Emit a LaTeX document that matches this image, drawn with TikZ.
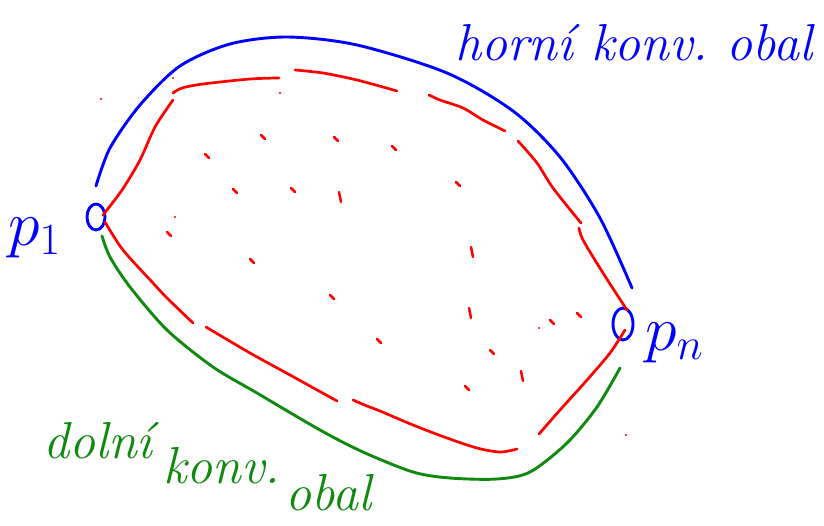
\RequirePackage{fix-cm}
\documentclass[tikz,border=0pt]{standalone}
\usepackage{fontspec}
\usepackage{amsmath}
\usepackage{tikz}
\usetikzlibrary{calc}
\definecolor{PenBlue}{HTML}{0000FF}
\definecolor{PenRed}{HTML}{FF0000}
\definecolor{PenGreen}{HTML}{0F8A0F}

\begin{document}
\begin{tikzpicture}[x=1pt,y=-1pt,
    hull/.style={line width=2.9pt,line cap=round,line join=round},
    edge/.style={PenRed,line width=2.7pt,line cap=round,line join=round},
    pt/.style={PenRed,line width=2.5pt,line cap=round},
    hand/.style={font=\fontsize{52}{60}\selectfont\itshape,inner sep=0pt,anchor=base west},
    ptname/.style={PenBlue,font=\fontsize{64}{70}\selectfont,inner sep=0pt,anchor=base west}]
  \path[fill=white] (0,0) rectangle (824,525);
  % extreme points
  \coordinate (p1) at (96,217);
  \coordinate (pn) at (623,324);
  \draw[PenBlue,hull] (p1) ellipse (9 and 13);
  \draw[PenBlue,hull] (pn) ellipse (10 and 16);
  \node[ptname] (p1lbl) at (8,245) {$p_1$};
  \node[ptname] (pnlbl) at (645,350) {$p_n$};
  % upper hull
  \draw[PenBlue,hull] plot[smooth] coordinates {(96,186) (110,148) (140,105) (180,66) (230,44) (287,37) (357,45) (447,73) (513,111) (560,157) (600,218) (632,288)};
  \node[hand,PenBlue] (upperlbl) at (455,60) {horní konv.\ obal};
  % lower hull
  \draw[PenGreen,hull] plot[smooth] coordinates {(102,236) (110,257) (130,287) (167,330) (213,367) (257,393) (320,430) (363,452) (413,472) (450,478) (497,479) (530,472) (567,443) (597,407) (620,368)};
  \node[hand,PenGreen] (lowerlbla) at (43,458) {dolní};
  \node[hand,PenGreen] (lowerlblb) at (163,483) {konv.};
  \node[hand,PenGreen] (lowerlblc) at (285,510) {obal};
  % red polygon, upper chain
  \draw[edge] plot[smooth] coordinates {(103,215) (122,190) (140,160) (155,127) (173,100)};
  \draw[edge] plot[smooth] coordinates {(173,93) (182,88) (203,84) (250,79) (279,78)};
  \draw[edge] plot[smooth] coordinates {(295,70) (323,73) (357,80) (390,89) (397,91)};
  \draw[edge] plot[smooth] coordinates {(429,95) (440,100) (463,108) (483,120) (505,131)};
  \draw[edge] plot[smooth] coordinates {(518,141) (537,163) (553,188) (581,223)};
  \draw[edge] plot[smooth] coordinates {(579,228) (583,240) (603,273) (627,310)};
  % red polygon, lower chain
  \draw[edge] plot[smooth] coordinates {(105,222) (123,250) (153,283) (167,298) (193,323)};
  \draw[edge] plot[smooth] coordinates {(206,327) (250,353) (290,375) (337,401)};
  \draw[edge] plot[smooth] coordinates {(353,400) (367,406) (380,411) (413,425) (447,438) (477,448) (500,452) (517,449)};
  \draw[edge] plot[smooth] coordinates {(539,434) (560,410) (587,380) (610,353) (625,330)};
  % inner points
  \foreach \p in {(263,137),(336,139),(207,156),(235,191),(293,190),(169,234),(252,261),(332,297),(379,341),(394,148),(458,184),(492,352),(467,388),(552,322),(579,315)}
    \draw[pt] \p ++(-2,-2) -- ++(4,4);
  \foreach \p in {(340,197),(472,252),(470,313),(522,376)}
    \draw[pt] \p ++(-1,-5) -- ++(2,10);
  \foreach \p in {(101,99),(173,78),(280,93),(175,217),(539,328),(626,435)}
    \fill[PenRed] \p circle (1.2);
\end{tikzpicture}
\end{document}
